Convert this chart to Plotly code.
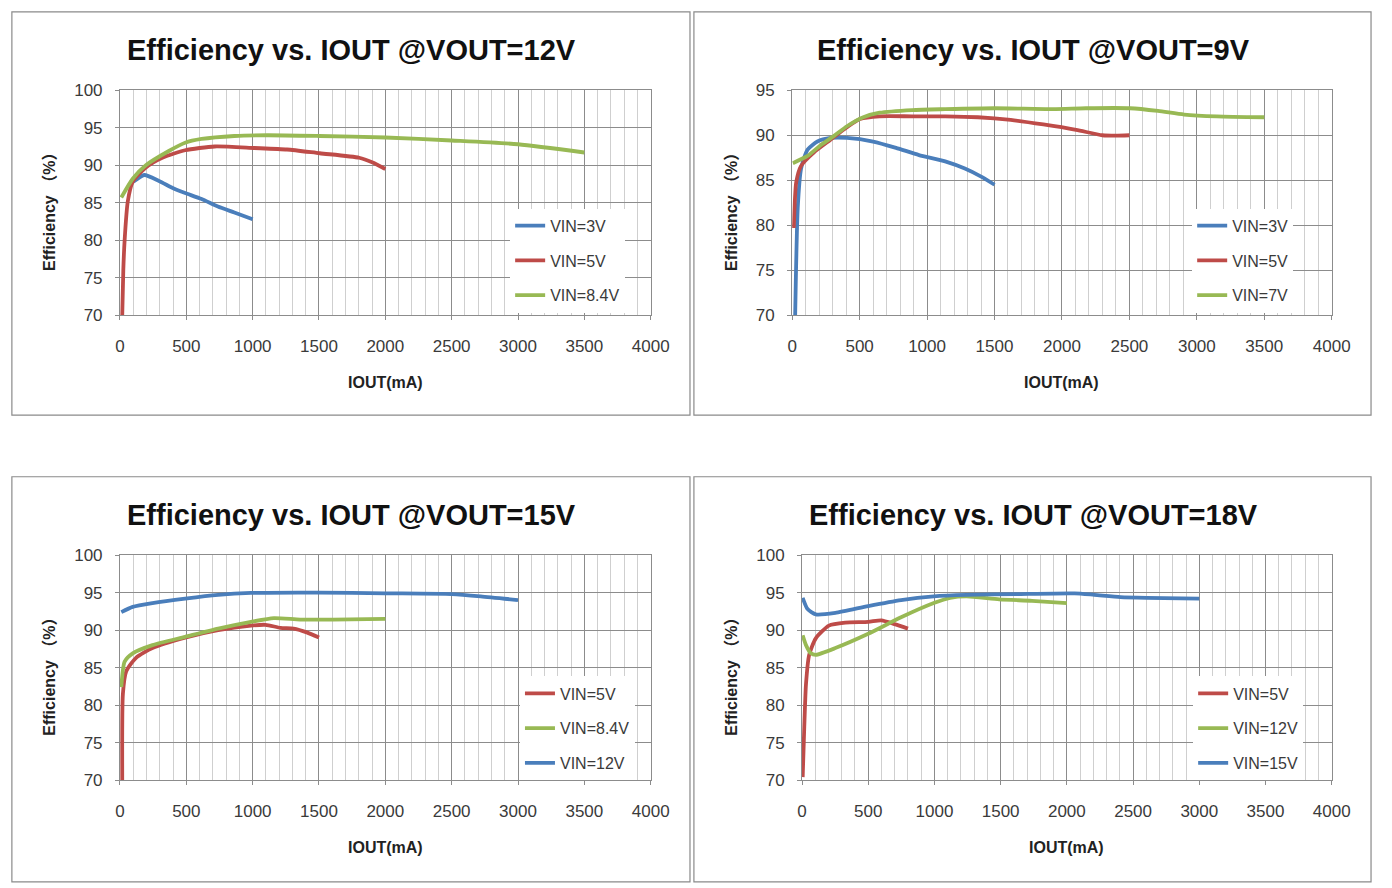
import plotly.graph_objects as go

W, H = 1392, 888

# ---------------- data ----------------
# Panel 1: VOUT = 12V
p1_vin3_i = [100, 183, 294, 405, 491, 615, 738, 862, 1000]
p1_vin3_e = [87.8, 88.7, 87.9, 86.9, 86.3, 85.5, 84.5, 83.7, 82.8]
p1_vin5_i = [17, 25, 35, 59, 96, 195, 319, 491, 714, 1012, 1259, 1506, 1803, 1900, 2000]
p1_vin5_e = [70.0, 76.0, 80.0, 85.2, 87.8, 89.7, 91.0, 92.0, 92.5, 92.3, 92.1, 91.6, 91.0, 90.4, 89.5]
p1_vin84_i = [10, 96, 195, 368, 491, 615, 862, 1110, 1500, 2000, 2500, 3000, 3500]
p1_vin84_e = [85.7, 88.2, 90.0, 91.9, 93.0, 93.5, 93.9, 94.0, 93.9, 93.7, 93.3, 92.8, 91.7]

# Panel 2: VOUT = 9V
p2_vin3_i = [22, 41, 66, 114, 187, 284, 406, 600, 770, 940, 1134, 1280, 1401, 1500]
p2_vin3_e = [70.0, 81.9, 86.3, 88.4, 89.3, 89.7, 89.7, 89.3, 88.6, 87.8, 87.1, 86.3, 85.4, 84.5]
p2_vin5_i = [12, 30, 66, 162, 284, 406, 503, 648, 890, 1134, 1377, 1620, 1862, 2105, 2299, 2400, 2500]
p2_vin5_e = [79.7, 84.8, 86.6, 88.1, 89.5, 90.9, 91.8, 92.1, 92.1, 92.1, 92.0, 91.7, 91.2, 90.6, 90.0, 89.95, 90.0]
p2_vin7_i = [5, 114, 211, 308, 406, 527, 648, 891, 1134, 1498, 1935, 2178, 2505, 2712, 2906, 3149, 3500]
p2_vin7_e = [86.9, 87.7, 88.9, 89.9, 91.0, 92.0, 92.5, 92.8, 92.9, 93.0, 92.9, 93.0, 93.0, 92.7, 92.3, 92.1, 92.0]

# Panel 3: VOUT = 15V
p3_vin5_i = [17, 22, 47, 121, 245, 491, 740, 987, 1098, 1210, 1308, 1408, 1500]
p3_vin5_e = [70.0, 81.5, 84.5, 86.3, 87.6, 89.0, 90.0, 90.6, 90.7, 90.3, 90.2, 89.7, 89.0]
p3_vin84_i = [10, 35, 96, 245, 491, 740, 987, 1160, 1358, 1605, 2000]
p3_vin84_e = [82.4, 85.8, 86.9, 88.0, 89.1, 90.2, 91.1, 91.6, 91.4, 91.4, 91.5]
p3_vin12_i = [10, 96, 245, 491, 740, 987, 1500, 2000, 2500, 2719, 3000]
p3_vin12_e = [92.4, 93.1, 93.6, 94.2, 94.7, 94.95, 95.0, 94.9, 94.8, 94.5, 94.0]

# Panel 4: VOUT = 18V
p4_vin5_i = [5, 17, 30, 54, 104, 203, 327, 500, 599, 698, 800]
p4_vin5_e = [70.4, 77.1, 82.8, 86.7, 88.9, 90.6, 91.0, 91.1, 91.3, 90.8, 90.2]
p4_vin12_i = [5, 30, 67, 104, 252, 500, 748, 995, 1118, 1242, 1489, 1737, 2000]
p4_vin12_e = [89.3, 88.0, 86.9, 86.7, 87.6, 89.5, 91.7, 93.6, 94.3, 94.5, 94.1, 93.9, 93.6]
p4_vin15_i = [5, 42, 104, 252, 500, 748, 995, 1242, 1613, 2058, 2207, 2405, 2603, 3000]
p4_vin15_e = [94.3, 92.8, 92.1, 92.3, 93.2, 94.0, 94.5, 94.7, 94.8, 94.9, 94.7, 94.4, 94.3, 94.2]

titles = ["Efficiency vs. IOUT @VOUT=12V", "Efficiency vs. IOUT @VOUT=9V",
          "Efficiency vs. IOUT @VOUT=15V", "Efficiency vs. IOUT @VOUT=18V"]
y_ranges = [[70, 100], [70, 95], [70, 100], [70, 100]]
x_range = [0, 4000]
x_title = "IOUT(mA)"
y_title = "Efficiency （%）"

panels = [
    [("VIN=3V", p1_vin3_i, p1_vin3_e, "blue"), ("VIN=5V", p1_vin5_i, p1_vin5_e, "red"),
     ("VIN=8.4V", p1_vin84_i, p1_vin84_e, "green")],
    [("VIN=3V", p2_vin3_i, p2_vin3_e, "blue"), ("VIN=5V", p2_vin5_i, p2_vin5_e, "red"),
     ("VIN=7V", p2_vin7_i, p2_vin7_e, "green")],
    [("VIN=5V", p3_vin5_i, p3_vin5_e, "red"), ("VIN=8.4V", p3_vin84_i, p3_vin84_e, "green"),
     ("VIN=12V", p3_vin12_i, p3_vin12_e, "blue")],
    [("VIN=5V", p4_vin5_i, p4_vin5_e, "red"), ("VIN=12V", p4_vin12_i, p4_vin12_e, "green"),
     ("VIN=15V", p4_vin15_i, p4_vin15_e, "blue")],
]

# ---------------- style / layout ----------------
COLORS = {"blue": "#4A7EBB", "red": "#BE4B48", "green": "#98B954"}
FONT = "Liberation Sans, Arial, Noto Sans CJK SC, sans-serif"
TEXT = "#3a3a3a"

# plot-area pixel boxes (left, top, right, bottom)
plot_boxes = [(117, 83, 657, 313), (801, 83, 1350, 313),
              (117, 558, 657, 788), (811, 558, 1350, 788)]
panel_boxes = [(7, 3, 697, 415), (701, 3, 1390, 415),
               (7, 478, 697, 892), (701, 478, 1390, 892)]
legend_pos = [(514, 204), (1208, 204), (524, 682), (1209, 682)]

def px(x):
    return x / W

def py(y):
    return 1 - y / H

fig = go.Figure()
layout = dict(autosize=True, margin=dict(l=0, r=0, t=0, b=0, pad=0),
              paper_bgcolor="white", plot_bgcolor="white",
              font=dict(family=FONT, color=TEXT), shapes=[], annotations=[])

for k, (series, box, pbox, title, yr, lp) in enumerate(
        zip(panels, plot_boxes, panel_boxes, titles, y_ranges, legend_pos)):
    n = "" if k == 0 else str(k + 1)
    lg = "legend" if k == 0 else f"legend{k + 1}"
    for j, (name, xs, ys, col) in enumerate(series):
        fig.add_trace(go.Scatter(
            x=xs, y=ys, name=name, mode="lines",
            line=dict(color=COLORS[col], width=3.8, shape="spline", smoothing=0.6),
            xaxis="x" + n, yaxis="y" + n, legend=lg, legendgroup=f"g{k}_{j}",
            hoverinfo="x+y+name"))
    l, t, r, b = box
    layout["xaxis" + n] = dict(
        domain=[px(l), px(r)], range=x_range, anchor="y" + n, dtick=500,
        showgrid=True, gridcolor="#8c8c8c", gridwidth=1,
        minor=dict(dtick=100, showgrid=True, gridcolor="#cfcfcf", gridwidth=1),
        showline=True, linecolor="#8c8c8c", linewidth=1, mirror=True,
        ticks="outside", ticklen=4, tickcolor="#8c8c8c", ticklabelstandoff=11,
        zeroline=False, tickfont=dict(family=FONT, size=17, color=TEXT))
    layout["yaxis" + n] = dict(
        domain=[py(b), py(t)], range=yr, anchor="x" + n, dtick=5,
        showgrid=True, gridcolor="#8c8c8c", gridwidth=1,
        showline=True, linecolor="#8c8c8c", linewidth=1, mirror=True,
        ticks="outside", ticklen=4, tickcolor="#8c8c8c", ticklabelstandoff=9,
        zeroline=False, tickfont=dict(family=FONT, size=17, color=TEXT))
    layout[lg] = dict(
        x=px(lp[0]), y=py(lp[1]), xanchor="left", yanchor="top",
        bgcolor="white", borderwidth=0, tracegroupgap=11,
        font=dict(family=FONT, size=16, color=TEXT), itemwidth=30,
        traceorder="grouped")
    # panel frame
    x0, y0, x1, y1 = pbox
    layout["shapes"].append(dict(type="rect", xref="paper", yref="paper",
                                 x0=px(x0), x1=px(x1), y0=py(y1), y1=py(y0),
                                 line=dict(color="#8a8a8a", width=1.2), layer="below"))
    # title
    cx = (x0 + x1) / 2 + 1
    layout["annotations"].append(dict(
        text=f"<b>{title}</b>", xref="paper", yref="paper", x=px(cx), y=py(y0 + 39),
        xanchor="center", yanchor="middle", showarrow=False,
        font=dict(family=FONT, size=29, color="#111111")))
    # axis titles
    layout["annotations"].append(dict(
        text=f"<b>{x_title}</b>", xref="paper", yref="paper", x=px((l + r) / 2), y=py(b + 69),
        xanchor="center", yanchor="middle", showarrow=False,
        font=dict(family=FONT, size=16, color="#222222")))
    layout["annotations"].append(dict(
        text=f"<b>{y_title}</b>", xref="paper", yref="paper", x=px(x0 + 38), y=py((t + b) / 2 + 5),
        xanchor="center", yanchor="middle", showarrow=False, textangle=-90,
        font=dict(family=FONT, size=16, color="#222222")))

fig.update_layout(**layout)
fig.write_html(
    "out.html", default_width="100vw", default_height="100vh",
    config={"displayModeBar": False, "responsive": True},
    post_script=("document.documentElement.style.margin='0';document.body.style.margin='0';"
                 "document.body.style.overflow='hidden';"
                 "Plotly.Plots.resize(document.getElementById('{plot_id}'));"))
